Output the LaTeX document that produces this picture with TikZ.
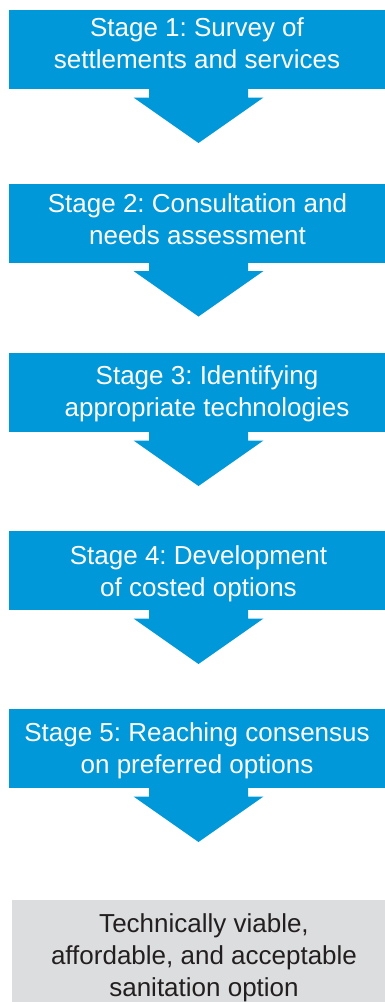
\documentclass[tikz,border=0pt]{standalone}
\usepackage{fontspec}
\setmainfont{Liberation Sans}
\frenchspacing
\definecolor{stageblue}{RGB}{0,152,216}
\definecolor{resultgrey}{RGB}{220,221,222}
\definecolor{resulttext}{RGB}{35,31,32}
\def\stagearrow(#1){\fill[stageblue, shift={(#1.south)}] (-49.5,-1) -- (-49.5,8.5) -- (-65,8.5) -- (0,54) -- (65,8.5) -- (49.5,8.5) -- (49.5,-1) -- cycle;}
\tikzset{
  stagebox/.style={fill=stageblue, minimum width=380pt, minimum height=79pt, inner sep=0pt, outer sep=0pt},
  stagetext/.style={text=white, align=center, font=\fontsize{26}{32}\selectfont},
  resultbox/.style={fill=resultgrey, minimum width=384pt, minimum height=130pt, inner sep=0pt, outer sep=0pt}
}

\begin{document}
\begin{tikzpicture}[x=1pt, y=-1pt]
			%%%%% START %%%%%
			\useasboundingbox (0,0) rectangle (385,1002);
			
			\node[stagebox] (s1) at (198.5, 49.5) {};
			\node[stagetext] (t1) at (197, 43.5) {Stage 1: Survey of\\settlements and services};
			\stagearrow(s1)
			
			\node[stagebox] (s2) at (198.5, 223) {};
			\node[stagetext] (t2) at (197.5, 219.5) {Stage 2: Consultation and\\needs assessment};
			\stagearrow(s2)
			
			\node[stagebox] (s3) at (198.5, 392.5) {};
			\node[stagetext] (t3) at (207, 394.2) {Stage 3: Identifying\\appropriate technologies};
			\stagearrow(s3)
			
			\node[stagebox] (s4) at (198.5, 570.5) {};
			\node[stagetext] (t4) at (198.5, 574.2) {Stage 4: Development\\of costed options};
			\stagearrow(s4)
			
			\node[stagebox] (s5) at (198.5, 748.5) {};
			\node[stagetext] (t5) at (197, 751.2) {Stage 5: Reaching consensus\\on preferred options};
			\stagearrow(s5)
			
			\node[resultbox] (res) at (204, 965) {};
			\node[stagetext, text=resulttext] (rest) at (204, 958.2) {Technically viable,\\affordable, and acceptable\\sanitation option};
			
			%%%%% END %%%%%
\end{tikzpicture}
\end{document}
